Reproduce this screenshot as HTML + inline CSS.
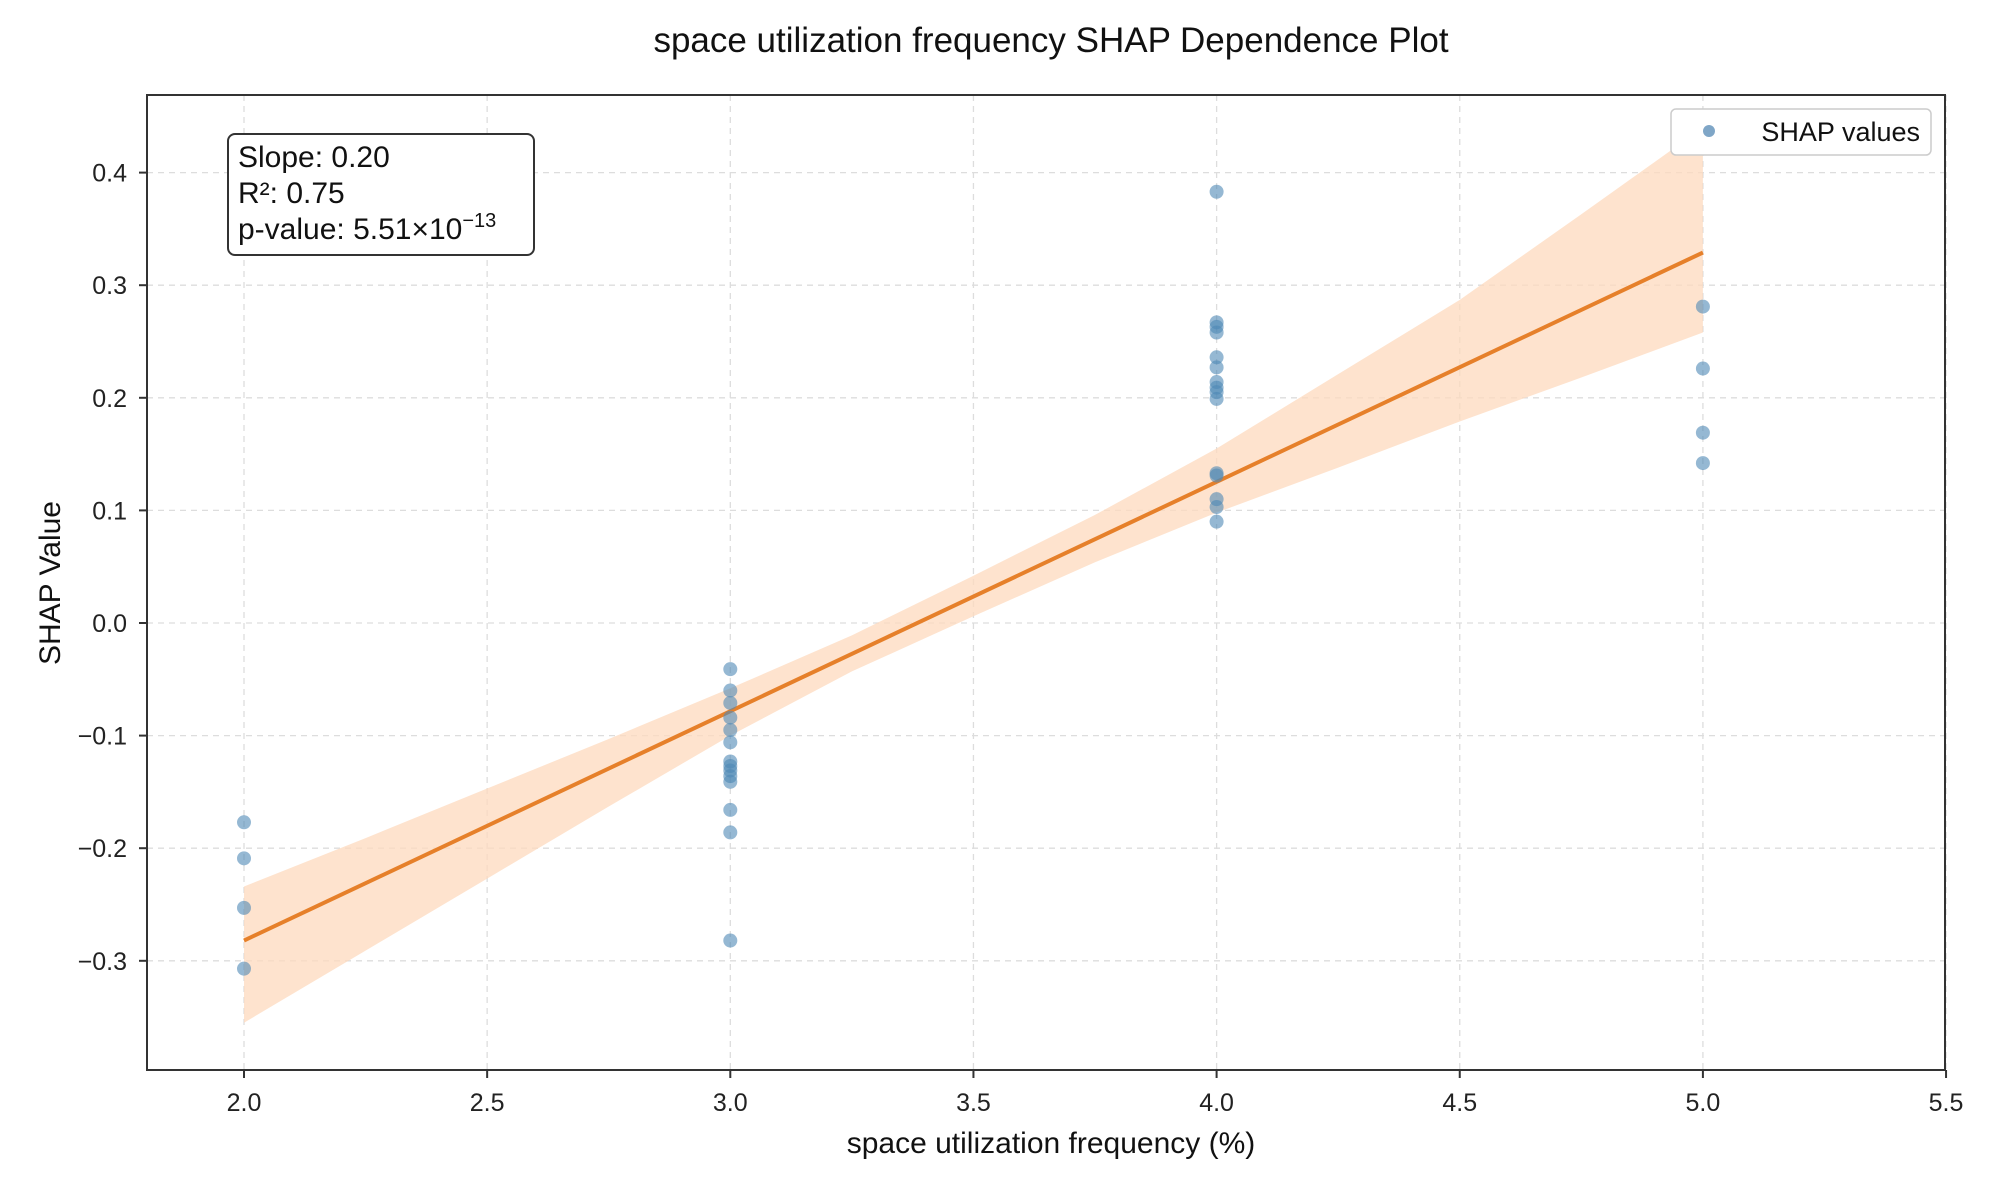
<!DOCTYPE html>
<html><head><meta charset="utf-8"><style>
body{margin:0;background:#fff;}
svg{display:block;font-family:"Liberation Sans",Arial,sans-serif;}
</style></head><body>
<svg id="chart" width="1995" height="1186" viewBox="0 0 1995 1186">
<text x="1051" y="52" text-anchor="middle" font-size="35" fill="#111">space utilization frequency SHAP Dependence Plot</text>
<g id="grid"></g>
<g id="band"></g>
<g id="line"></g>
<g id="pts"></g>
<rect x="147" y="95" width="1798" height="975" fill="none" stroke="#333" stroke-width="2"/>
<g id="axes"></g>
<text x="1051" y="1153" text-anchor="middle" font-size="30" fill="#111">space utilization frequency (%)</text>
<text transform="translate(60,583) rotate(-90)" text-anchor="middle" font-size="30" fill="#111">SHAP Value</text>
<g>
<rect x="228" y="134" width="306" height="121" rx="7" fill="#fff" stroke="#333" stroke-width="2"/>
<text x="238" y="167" font-size="30" fill="#111">Slope: 0.20</text>
<text x="238" y="203" font-size="30" fill="#111">R²: 0.75</text>
<text x="238" y="239" font-size="30" fill="#111">p-value: 5.51×10<tspan dy="-12" font-size="20">−13</tspan></text>
</g>
<g>
<rect x="1671" y="109" width="260" height="46" rx="5" fill="#fff" stroke="#ccc" stroke-width="1.5"/>
<circle cx="1709" cy="131" r="6" fill="#7fa6c7"/>
<text x="1920" y="141" text-anchor="end" font-size="27" fill="#111">SHAP values</text>
</g>
</svg>
<script>
const xTicks = [2.0, 2.5, 3.0, 3.5, 4.0, 4.5, 5.0, 5.5];
const yTicks = [-0.3, -0.2, -0.1, 0.0, 0.1, 0.2, 0.3, 0.4];
const xLabels = ["2.0","2.5","3.0","3.5","4.0","4.5","5.0","5.5"];
const yLabels = ["\u22120.3","\u22120.2","\u22120.1","0.0","0.1","0.2","0.3","0.4"];
const ptX = [2,2,2,2, 3,3,3,3,3,3,3,3,3,3,3,3,3,3, 4,4,4,4,4,4,4,4,4,4,4,4,4,4,4, 5,5,5,5];
const ptY = [-0.177,-0.209,-0.253,-0.307,
 -0.041,-0.060,-0.071,-0.084,-0.095,-0.106,-0.123,-0.127,-0.131,-0.136,-0.141,-0.166,-0.186,-0.282,
 0.383,0.267,0.263,0.258,0.236,0.227,0.214,0.209,0.205,0.199,0.133,0.131,0.110,0.103,0.090,
 0.281,0.226,0.169,0.142];
const fitX = [2, 5];
const fitY = [-0.282, 0.329];
const bandX = [2, 2.25, 2.5, 2.75, 3, 3.25, 3.5, 3.75, 4, 4.25, 4.5, 4.75, 5];
const bandLo = [-0.355, -0.291, -0.227, -0.163, -0.100, -0.043, 0.006, 0.054, 0.098, 0.138, 0.179, 0.218, 0.258];
const bandHi = [-0.234, -0.191, -0.147, -0.103, -0.058, -0.011, 0.042, 0.096, 0.155, 0.221, 0.287, 0.363, 0.440];

const X = v => 244 + (v - 2) * 486.3;
const Y = v => 623 - v * 1126;
const NS = "http://www.w3.org/2000/svg";
function mk(tag, attrs, parent){const e=document.createElementNS(NS,tag);for(const k in attrs)e.setAttribute(k,attrs[k]);parent.appendChild(e);return e;}
const grid=document.getElementById('grid'), axes=document.getElementById('axes');
xTicks.forEach((t,i)=>{
  const gl=mk('line',{x1:X(t),x2:X(t),y1:95,y2:1070,stroke:'#ddd','stroke-width':1.3,'stroke-dasharray':'6,5'},grid);
  
  
  const tk=mk('line',{x1:X(t),x2:X(t),y1:1070,y2:1078,stroke:'#333','stroke-width':2},axes);
  
  
  const tx=mk('text',{x:X(t),y:1111,'text-anchor':'middle','font-size':25,fill:'#222'},axes);
  tx.textContent=xLabels[i];
  
  
});
yTicks.forEach((t,i)=>{
  const gl=mk('line',{x1:147,x2:1945,y1:Y(t),y2:Y(t),stroke:'#ddd','stroke-width':1.3,'stroke-dasharray':'6,5'},grid);
  
  
  const tk=mk('line',{x1:139,x2:147,y1:Y(t),y2:Y(t),stroke:'#333','stroke-width':2},axes);
  
  
  const tx=mk('text',{x:127,y:Y(t)+9,'text-anchor':'end','font-size':25,fill:'#222'},axes);
  tx.textContent=yLabels[i];
  
  
});
let d='';
bandX.forEach((x,i)=>{d+=(i?'L':'M')+X(x)+','+Y(bandHi[i]);});
for(let i=bandX.length-1;i>=0;i--)d+='L'+X(bandX[i])+','+Y(bandLo[i]);
const band=mk('path',{d:d+'Z',fill:'#fdd9bd','fill-opacity':0.75},document.getElementById('band'));


const ln=mk('line',{x1:X(fitX[0]),y1:Y(fitY[0]),x2:X(fitX[1]),y2:Y(fitY[1]),stroke:'#e6802a','stroke-width':4},document.getElementById('line'));


const pts=document.getElementById('pts');
ptX.forEach((x,i)=>{
  const c=mk('circle',{cx:X(x),cy:Y(ptY[i]),r:7,fill:'#4f88b5','fill-opacity':0.6},pts);
  
  
});
</script>
</body></html>
